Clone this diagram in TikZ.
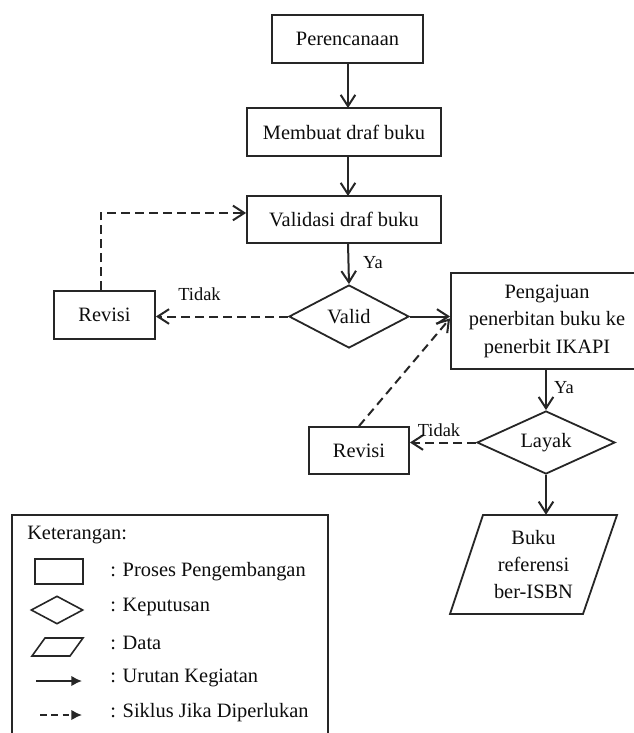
\documentclass[tikz,border=0pt]{standalone}
\usepackage{fontspec}
\setmainfont{Liberation Serif}
\usetikzlibrary{arrows.meta,shapes.geometric,calc}

\begin{document}
\begin{tikzpicture}[x=0.75pt,y=-0.75pt,
  every node/.style={font=\fontsize{15.3}{20.6}\selectfont, text=black!95, inner sep=0pt},
  sz/.style 2 args={minimum width=#1*0.75pt, minimum height=#2*0.75pt},
  proc/.style={draw=black!85, line width=1.35pt, align=center},
  decide/.style={draw=black!85, line width=1.35pt, diamond, aspect=2},
  lbl/.style={font=\fontsize{13.8}{16}\selectfont},
  flow/.style={draw=black!85, line width=1.5pt, -{Straight Barb[length=8.5pt,width=11pt,line width=1.5pt]}},
  loop/.style={flow, dash pattern=on 6.5pt off 4pt},
  keyarr/.style={draw=black!85, line width=1.5pt, -{Latex[length=8pt,width=8pt]}},
]
\useasboundingbox (0,0) rectangle (634,733);

% main process chain
\node[proc, sz={151}{48}] (per) at (347.5,39) {Perencanaan};
\node[proc, sz={194}{48}] (mem) at (344,132) {Membuat draf buku};
\node[proc, sz={194}{47}] (val) at (344,219.5) {Validasi draf buku};
\node[decide, sz={120}{63}] (cek) at (349,316.5) {Valid};
\node[proc, sz={101}{48}] (rev1) at (104.5,315) {Revisi};
\node[proc, sz={192}{96}] (pen) at (547,321) {Pengajuan\\penerbitan buku ke\\penerbit IKAPI};
\node[decide, sz={138}{63}] (lay) at (546,442.5) {Layak};
\node[proc, sz={100}{47}] (rev2) at (359,450.5) {Revisi};
\node[sz={134}{99}, align=center, font=\fontsize{15.3}{20.3}\selectfont] (buku) at (533.5,564.5) {Buku\\referensi\\ber-ISBN};
\draw[draw=black!85, line width=1.35pt] (483,515) -- (617,515) -- (583,614) -- (450,614) -- cycle;

% connectors
\draw[flow] (348,63) -- (348,108);
\draw[flow] (348,156) -- (348,196);
\draw[flow] (348,243) -- (cek.north);
\draw[flow] (cek.east) -- (cek.east -| pen.west);
\draw[loop] (cek.west) -- (cek.west -| rev1.east);
\draw[loop] ([xshift=-3pt]rev1.north) |- ([yshift=4.9pt]val.west);
\draw[flow] (lay.north |- pen.south) -- (lay.north);
\draw[loop] (lay.west) -- (lay.west -| rev2.east);
\draw[loop] (rev2.north) -- ([yshift=2pt]pen.west);
\draw[flow] (lay.south) -- (lay.south |- buku.north);

% branch labels
\node[lbl] (ya1) at (373,263) {Ya};
\node[lbl] (tidak1) at (199.5,294) {Tidak};
\node[lbl] (ya2) at (564,388) {Ya};
\node[lbl] (tidak2) at (439,430) {Tidak};

% key
\draw[draw=black!85, line width=1.2pt] (12,745) -- (12,515) -- (328,515) -- (328,745);
\node[anchor=west] (ket) at (27,535) {Keterangan:};
\node[draw=black!85, line width=1.2pt, sz={48}{25}] (kproc) at (59,571.5) {};
\node[draw=black!85, line width=1.2pt, diamond, aspect=2, sz={52}{28}] (kdec) at (57,610) {};
\draw[draw=black!85, line width=1.2pt] (45,638) -- (83,638) -- (70,656) -- (32,656) -- cycle;
\coordinate (ka1) at (36,681);
\coordinate (kb1) at (82,681);
\coordinate (ka2) at (40,715);
\coordinate (kb2) at (82,715);
\draw[keyarr] (ka1) -- (kb1);
\draw[keyarr, dash pattern=on 5pt off 3.5pt] (ka2) -- (kb2);
\node[anchor=west] (t1) at (110,572) {: Proses Pengembangan};
\node[anchor=west] (t2) at (110,607) {: Keputusan};
\node[anchor=west] (t3) at (110,643) {: Data};
\node[anchor=west] (t4) at (110,678) {: Urutan Kegiatan};
\node[anchor=west] (t5) at (110,713) {: Siklus Jika Diperlukan};
\end{tikzpicture}
\end{document}
